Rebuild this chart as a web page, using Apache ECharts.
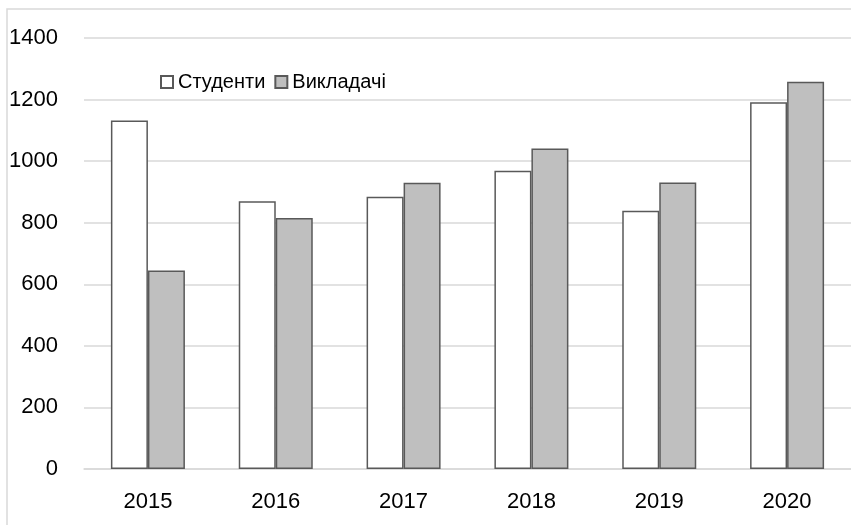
<!DOCTYPE html>
<html>
<head>
<meta charset="utf-8">
<script src="https://cdn.jsdelivr.net/npm/echarts@6/dist/echarts.min.js"></script>
<style>html,body{margin:0;padding:0;background:#fff}#c{width:851px;height:525px}</style>
</head>
<body>
<div id="c"></div>
<script>
const categories = ['2015', '2016', '2017', '2018', '2019', '2020'];
const students = [1132, 870, 884, 969, 839, 1191];
const teachers = [645, 815, 930, 1041, 931, 1258];
const seriesNames = ['Студенти', 'Викладачі'];

const FONT = '"Liberation Sans Narrow", "Arial Narrow", "Liberation Sans", Arial, sans-serif';
const chart = echarts.init(document.getElementById('c'), null, {renderer: 'canvas'});
chart.setOption({
  animation: false,
  backgroundColor: '#fff',
  graphic: [{
    type: 'rect', shape: {x: 7, y: 9, width: 1000, height: 1000},
    style: {fill: 'none', stroke: '#d9d9d9', lineWidth: 1.5}, silent: true, z: -1
  }],
  legend: {
    left: 155, top: 67, itemWidth: 12, itemHeight: 12, itemGap: 9, icon: 'rect',
    textStyle: {fontFamily: FONT, fontSize: 20, color: '#000'},
    data: seriesNames
  },
  grid: {left: 84, right: 0, top: 38, bottom: 56, containLabel: false, outerBoundsMode: 'none'},
  xAxis: {
    type: 'category', data: categories,
    axisLine: {lineStyle: {color: '#d9d9d9', width: 1.5}},
    axisTick: {show: false},
    axisLabel: {fontFamily: FONT, fontSize: 22, color: '#000', margin: 22}
  },
  yAxis: {
    type: 'value', min: 0, max: 1400, interval: 200,
    axisLine: {show: false}, axisTick: {show: false},
    splitLine: {lineStyle: {color: '#d9d9d9', width: 1.5}},
    axisLabel: {fontFamily: FONT, fontSize: 22, color: '#000', margin: 26,
      formatter: v => String(v)}
  },
  series: [
    {name: seriesNames[0], type: 'bar', data: students, barWidth: 37, barGap: '0%',
     itemStyle: {color: '#ffffff', borderColor: '#595959', borderWidth: 1.5}},
    {name: seriesNames[1], type: 'bar', data: teachers, barWidth: 37,
     itemStyle: {color: '#bfbfbf', borderColor: '#595959', borderWidth: 1.5}}
  ]
});
</script>
</body>
</html>
